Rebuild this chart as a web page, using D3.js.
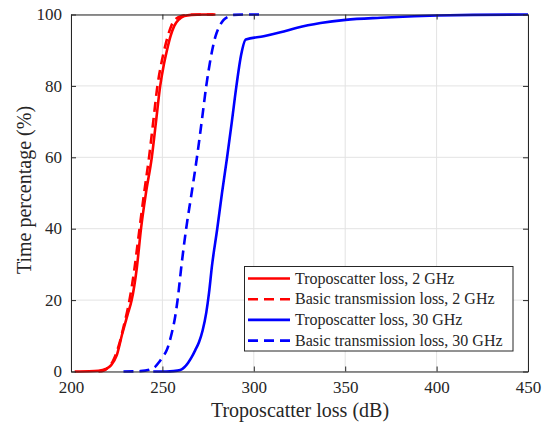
<!DOCTYPE html>
<html>
<head>
<meta charset="utf-8">
<script src="https://cdn.jsdelivr.net/npm/d3@7"></script>
<style>
  html, body { margin: 0; padding: 0; background: #ffffff; }
  svg { display: block; }
  text { font-family: "Liberation Serif", "Times New Roman", serif; fill: #262626; }
</style>
</head>
<body>
<svg id="chart" width="549" height="427"></svg>
<script>
// ---- Data ----
const xTicks = [200, 250, 300, 350, 400, 450];
const yTicks = [0, 20, 40, 60, 80, 100];

const tropo2X = [202, 210, 215, 219, 222, 225, 228, 231, 233.2, 236, 238.3, 241, 244.2, 246.5, 248.8, 250.8, 252.5, 254.5, 256.5, 259, 262, 266, 272, 279];
const tropo2Y = [0, 0.05, 0.2, 0.7, 1.8, 4.5, 10.5, 16, 20, 29, 40, 50, 60, 70, 80, 86, 90, 94, 96.8, 98.6, 99.6, 99.9, 100, 100];

const basic2X = [215, 218, 220, 223, 226, 229, 232, 234.5, 237, 240, 242.7, 245, 247.3, 249.3, 251, 253, 255, 257.5, 260.5, 265, 271, 278];
const basic2Y = [0, 0.3, 1, 3, 7, 13, 20, 28, 38, 50, 60, 70, 80, 86, 90, 94, 97, 98.8, 99.6, 99.9, 100, 100];

const tropo30X = [245, 252, 256, 259.8, 262, 264, 266, 268, 270, 272, 274, 275.5, 277.1, 280, 282.6, 285.4, 288, 290.5, 293, 295.6, 305.4, 314.6, 323.7, 336.5, 350.2, 369.4, 387.7, 400.5, 420, 450];
const tropo30Y = [0, 0.02, 0.1, 0.4, 1.2, 2.4, 4, 6, 8.2, 11.5, 16.5, 22, 29.5, 40, 50, 60, 70, 80, 88.5, 93, 93.9, 95, 96.3, 97.6, 98.5, 99.1, 99.5, 99.7, 99.9, 100];

const basic30X = [228.7, 238, 243, 246, 248, 250, 252.4, 255, 257, 258.3, 260.5, 263, 266, 268.9, 271.5, 274, 276.5, 279, 281, 283.5, 286, 289, 295, 304];
const basic30Y = [0, 0.1, 0.5, 1.3, 2.5, 4, 6, 10.5, 15.4, 20, 30, 40, 50, 60, 70, 80, 88, 93.8, 96.5, 98.5, 99.4, 99.9, 100, 100];

const seriesNames = ["Troposcatter loss, 2 GHz", "Basic transmission loss, 2 GHz", "Troposcatter loss, 30 GHz", "Basic transmission loss, 30 GHz"];
const seriesColors = ["#ff0000", "#ff0000", "#0000ff", "#0000ff"];
const seriesDashed = [false, true, false, true];
const xLabel = "Troposcatter loss (dB)";
const yLabel = "Time percentage (%)";

// ---- Layout ----
const W = 549, H = 427;
const margin = { left: 71, right: 21, top: 14.5, bottom: 55.5 };
const iw = W - margin.left - margin.right;
const ih = H - margin.top - margin.bottom;
const axisColor = "#262626";

const svg = d3.select("#chart");
const g = svg.append("g").attr("transform", `translate(${margin.left},${margin.top})`);

const x = d3.scaleLinear().domain([200, 450]).range([0, iw]);
const y = d3.scaleLinear().domain([0, 100]).range([ih, 0]);

// grid
g.append("g").selectAll("line.gx").data(xTicks).join("line")
  .attr("x1", d => x(d)).attr("x2", d => x(d)).attr("y1", 0).attr("y2", ih)
  .attr("stroke", "#e3e3e3").attr("stroke-width", 1);
g.append("g").selectAll("line.gy").data(yTicks).join("line")
  .attr("x1", 0).attr("x2", iw).attr("y1", d => y(d)).attr("y2", d => y(d))
  .attr("stroke", "#e3e3e3").attr("stroke-width", 1);

// series
const series = [
  { xs: tropo2X, ys: tropo2Y },
  { xs: basic2X, ys: basic2Y },
  { xs: tropo30X, ys: tropo30Y },
  { xs: basic30X, ys: basic30Y }
];
const line = d3.line().x(d => x(d[0])).y(d => y(d[1])).curve(d3.curveMonotoneX);
svg.append("defs").append("clipPath").attr("id", "clip")
  .append("rect").attr("x", -3).attr("y", -3).attr("width", iw + 6).attr("height", ih + 6);
const lines = g.append("g").attr("clip-path", "url(#clip)");
series.forEach((s, i) => {
  const pts = s.xs.map((v, k) => [v, s.ys[k]]);
  lines.append("path").datum(pts)
    .attr("d", line)
    .attr("fill", "none")
    .attr("stroke", seriesColors[i])
    .attr("stroke-width", 2.6)
    .attr("stroke-linejoin", "round")
    .attr("stroke-dasharray", seriesDashed[i] ? "10,6" : null);
});

// axes (ticks inward, box)
const xAxisB = d3.axisBottom(x).tickValues(xTicks).tickSizeInner(-5).tickSizeOuter(0).tickPadding(9);
const xAxisT = d3.axisTop(x).tickValues(xTicks).tickSizeInner(-5).tickSizeOuter(0).tickFormat("");
const yAxisL = d3.axisLeft(y).tickValues(yTicks).tickSizeInner(-5).tickSizeOuter(0).tickPadding(7);
const yAxisR = d3.axisRight(y).tickValues(yTicks).tickSizeInner(-5).tickSizeOuter(0).tickFormat("");

function style(sel) {
  sel.attr("font-family", "Liberation Serif");
  sel.selectAll("path.domain").attr("stroke", axisColor).attr("stroke-width", 1);
  sel.selectAll(".tick line").attr("stroke", axisColor).attr("stroke-width", 1);
  sel.selectAll(".tick text").attr("font-family", "Liberation Serif").attr("font-size", 17).attr("fill", axisColor);
}
const gxb = g.append("g").attr("transform", `translate(0,${ih})`).call(xAxisB).call(style);
gxb.selectAll(".tick text").attr("y", 21.5).attr("dy", 0);
g.append("g").call(xAxisT).call(style);
const gyl = g.append("g").call(yAxisL).call(style);
gyl.selectAll(".tick text").attr("x", -9).attr("dy", "0.3em");
g.append("g").attr("transform", `translate(${iw},0)`).call(yAxisR).call(style);

// axis labels
svg.append("text").attr("x", 300).attr("y", 416.5)
  .attr("text-anchor", "middle").attr("font-size", 20).text(xLabel);
svg.append("text").attr("transform", "translate(31,190) rotate(-90)")
  .attr("text-anchor", "middle").attr("font-size", 20).text(yLabel);

// legend
const lg = svg.append("g");
lg.append("rect").attr("x", 244.5).attr("y", 266.5).attr("width", 268.5).attr("height", 84.5)
  .attr("fill", "#ffffff").attr("stroke", axisColor).attr("stroke-width", 1);
const rowY = [278.5, 299.2, 319.9, 340.6];
seriesNames.forEach((name, i) => {
  lg.append("line").attr("x1", 248).attr("x2", 290).attr("y1", rowY[i]).attr("y2", rowY[i])
    .attr("stroke", seriesColors[i]).attr("stroke-width", 2.6)
    .attr("stroke-dasharray", seriesDashed[i] ? "10,6" : null);
  lg.append("text").attr("x", 295).attr("y", rowY[i]).attr("dy", "0.33em")
    .attr("font-size", 16).text(name);
});
</script>
</body>
</html>
